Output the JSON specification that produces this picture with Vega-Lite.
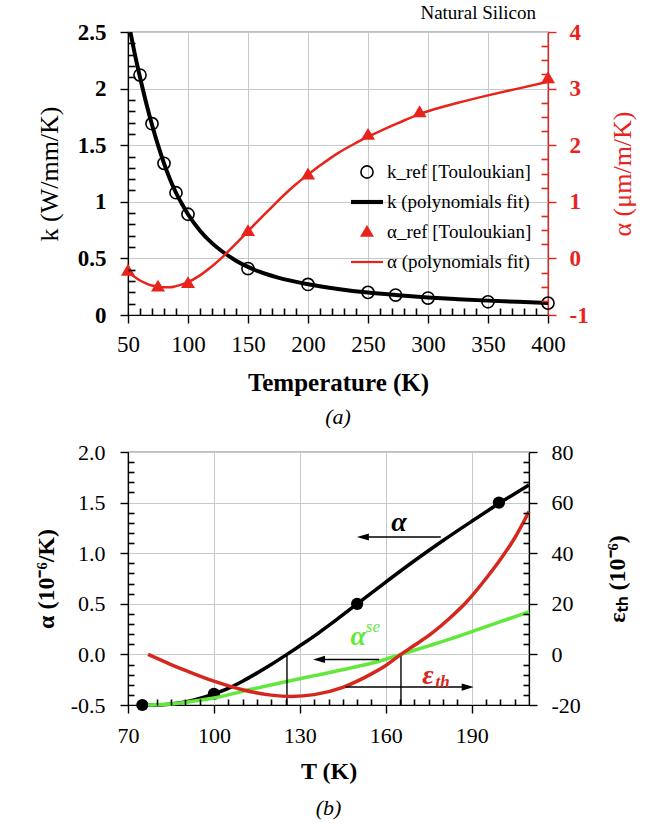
{
  "$schema": "https://vega.github.io/schema/vega-lite/v6.json",
  "background": "white",
  "padding": {"left": 33, "top": 3, "right": 5, "bottom": 5},
  "spacing": 11,
  "config": {
    "font": "Liberation Serif",
    "view": {"stroke": "black", "strokeWidth": 1.2},
    "axis": {"gridColor": "#c3caca", "gridWidth": 1, "domainColor": "black", "domainWidth": 1.2, "tickColor": "black", "tickWidth": 1.4, "labelColor": "black", "titleColor": "black", "labelFlush": false, "labelOverlap": false},
    "legend": {"title": null, "orient": "none", "padding": 0, "rowPadding": 3, "labelFontSize": 19, "labelColor": "black", "labelOffset": 3, "symbolStrokeWidth": 1.6, "symbolSize": 1024},
    "locale": {"number": {"decimal": ".", "thousands": ",", "grouping": [3], "currency": ["$", ""], "minus": "-"}}
  },
  "vconcat": [
    {
      "width": 420,
      "height": 283,
      "title": {"text": "(a)", "orient": "bottom", "fontStyle": "italic", "fontWeight": "normal", "fontSize": 22, "offset": 12},
      "layer": [
        {
          "data": {"values": [
            {"T": 52, "k": 2.5}, {"T": 55, "k": 2.34}, {"T": 60, "k": 2.1}, {"T": 65, "k": 1.88}, {"T": 70, "k": 1.68},
            {"T": 75, "k": 1.5}, {"T": 80, "k": 1.34}, {"T": 85, "k": 1.2}, {"T": 90, "k": 1.08}, {"T": 95, "k": 0.98},
            {"T": 100, "k": 0.89}, {"T": 110, "k": 0.745}, {"T": 120, "k": 0.635}, {"T": 130, "k": 0.55}, {"T": 140, "k": 0.48},
            {"T": 150, "k": 0.425}, {"T": 160, "k": 0.38}, {"T": 175, "k": 0.33}, {"T": 200, "k": 0.272}, {"T": 225, "k": 0.23},
            {"T": 250, "k": 0.198}, {"T": 275, "k": 0.175}, {"T": 300, "k": 0.155}, {"T": 325, "k": 0.14}, {"T": 350, "k": 0.127},
            {"T": 375, "k": 0.116}, {"T": 400, "k": 0.107}
          ]},
          "mark": {"type": "line", "color": "black", "strokeWidth": 4, "interpolate": "monotone", "clip": true},
          "encoding": {
            "x": {"field": "T", "type": "quantitative", "scale": {"domain": [50, 400], "nice": false, "zero": false},
              "axis": {"orient": "bottom", "values": [50, 100, 150, 200, 250, 300, 350, 400], "grid": true, "tickSize": 8, "labelFontSize": 23, "labelPadding": 10, "title": "Temperature  (K)", "titleFontSize": 25, "titleFontWeight": "bold", "titlePadding": 14}},
            "y": {"field": "k", "type": "quantitative", "scale": {"domain": [0, 2.5], "nice": false, "zero": false},
              "axis": {"orient": "left", "values": [0, 0.5, 1, 1.5, 2, 2.5], "format": "~g", "grid": true, "tickSize": 8, "labelFontSize": 23, "labelFontWeight": "bold", "labelPadding": 14, "title": "k (W/mm/K)", "titleFontSize": 26, "titleFontWeight": "normal", "titleX": -79, "titleY": 141.5, "titleAngle": 270, "titleBaseline": "middle", "titleAlign": "center"}}
          }
        },
        {
          "data": {"values": [
            {"T": 60, "k": 2.12, "series": "k_ref [Touloukian]"}, {"T": 70, "k": 1.69, "series": "k_ref [Touloukian]"},
            {"T": 80, "k": 1.34, "series": "k_ref [Touloukian]"}, {"T": 90, "k": 1.08, "series": "k_ref [Touloukian]"},
            {"T": 100, "k": 0.89, "series": "k_ref [Touloukian]"}, {"T": 150, "k": 0.41, "series": "k_ref [Touloukian]"},
            {"T": 200, "k": 0.27, "series": "k_ref [Touloukian]"}, {"T": 250, "k": 0.2, "series": "k_ref [Touloukian]"},
            {"T": 273, "k": 0.176, "series": "k_ref [Touloukian]"}, {"T": 300, "k": 0.15, "series": "k_ref [Touloukian]"},
            {"T": 350, "k": 0.117, "series": "k_ref [Touloukian]"}, {"T": 400, "k": 0.105, "series": "k_ref [Touloukian]"}
          ]},
          "mark": {"type": "point", "strokeWidth": 1.6, "opacity": 1, "size": 1024},
          "encoding": {
            "x": {"field": "T", "type": "quantitative", "scale": {"domain": [50, 400], "nice": false, "zero": false},
              "axis": {"orient": "bottom", "offset": -7, "values": [60, 70, 80, 90, 110, 120, 130, 140, 160, 170, 180, 190, 210, 220, 230, 240, 260, 270, 280, 290, 310, 320, 330, 340, 360, 370, 380, 390], "grid": false, "labels": false, "domain": false, "ticks": true, "tickSize": 7, "tickWidth": 1.6, "tickColor": "black", "title": null, "zindex": 2}},
            "y": {"field": "k", "type": "quantitative", "scale": {"domain": [0, 2.5], "nice": false, "zero": false},
              "axis": {"orient": "left", "offset": -7, "values": [0.1, 0.2, 0.3, 0.4, 0.6, 0.7, 0.8, 0.9, 1.1, 1.2, 1.3, 1.4, 1.6, 1.7, 1.8, 1.9, 2.1, 2.2, 2.3, 2.4], "grid": false, "labels": false, "domain": false, "ticks": true, "tickSize": 7, "tickWidth": 1.6, "tickColor": "black", "title": null, "zindex": 2}},
            "shape": {"field": "series", "type": "nominal",
              "scale": {"domain": ["k_ref [Touloukian]", "k (polynomials fit)", "α_ref [Touloukian]", "α (polynomials fit)"], "range": ["M0.38,0A0.38,0.38,0,1,1,-0.38,0A0.38,0.38,0,1,1,0.38,0Z", "M-1,-0.13L1,-0.13L1,0.13L-1,0.13Z", "M0,-0.44L0.44,0.3L-0.44,0.3Z", "M-1,-0.07L1,-0.07L1,0.07L-1,0.07Z"]},
              "legend": {"legendX": 222, "legendY": 123}},
            "fill": {"field": "series", "type": "nominal",
              "scale": {"domain": ["k_ref [Touloukian]", "k (polynomials fit)", "α_ref [Touloukian]", "α (polynomials fit)"], "range": ["transparent", "black", "#e8231c", "#e8231c"]},
              "legend": {"legendX": 222, "legendY": 123}},
            "stroke": {"field": "series", "type": "nominal",
              "scale": {"domain": ["k_ref [Touloukian]", "k (polynomials fit)", "α_ref [Touloukian]", "α (polynomials fit)"], "range": ["black", "transparent", "transparent", "transparent"]},
              "legend": {"legendX": 222, "legendY": 123}}
          }
        },
        {
          "data": {"values": [{"label": "Natural Silicon", "T": 390, "k": 2.67}]},
          "mark": {"type": "text", "align": "right", "baseline": "middle", "fontSize": 19, "color": "black"},
          "encoding": {
            "x": {"field": "T", "type": "quantitative", "scale": {"domain": [50, 400], "nice": false, "zero": false}, "axis": null},
            "y": {"field": "k", "type": "quantitative", "scale": {"domain": [0, 2.5], "nice": false, "zero": false}, "axis": null},
            "text": {"field": "label"}
          }
        },
        {
          "data": {"values": [
            {"T": 50, "a": -0.24}, {"T": 55, "a": -0.32}, {"T": 60, "a": -0.39}, {"T": 65, "a": -0.44}, {"T": 70, "a": -0.48},
            {"T": 75, "a": -0.5}, {"T": 80, "a": -0.51}, {"T": 85, "a": -0.51}, {"T": 90, "a": -0.49}, {"T": 95, "a": -0.46},
            {"T": 100, "a": -0.42}, {"T": 110, "a": -0.3}, {"T": 120, "a": -0.14}, {"T": 130, "a": 0.05}, {"T": 140, "a": 0.26},
            {"T": 150, "a": 0.48}, {"T": 160, "a": 0.7}, {"T": 170, "a": 0.91}, {"T": 180, "a": 1.12}, {"T": 190, "a": 1.31},
            {"T": 200, "a": 1.48}, {"T": 210, "a": 1.64}, {"T": 225, "a": 1.86}, {"T": 240, "a": 2.04}, {"T": 250, "a": 2.15},
            {"T": 260, "a": 2.25}, {"T": 275, "a": 2.39}, {"T": 293, "a": 2.55}, {"T": 300, "a": 2.6}, {"T": 325, "a": 2.75},
            {"T": 350, "a": 2.88}, {"T": 375, "a": 3.0}, {"T": 400, "a": 3.12}
          ]},
          "mark": {"type": "line", "color": "#e8231c", "strokeWidth": 2.5, "interpolate": "monotone"},
          "encoding": {
            "x": {"field": "T", "type": "quantitative", "scale": {"domain": [50, 400], "nice": false, "zero": false}, "axis": null},
            "y": {"field": "a", "type": "quantitative", "scale": {"domain": [-1, 4], "nice": false, "zero": false},
              "axis": {"orient": "right", "values": [-1, 0, 1, 2, 3, 4], "format": "d", "grid": false, "tickSize": 8, "tickColor": "#e8231c", "domainColor": "#e8231c", "labelColor": "#e8231c", "labelFontSize": 23, "labelFontWeight": "bold", "labelPadding": 13, "title": "α (μm/m/K)", "titleX": 74, "titleY": 141.5, "titleAngle": 270, "titleBaseline": "middle", "titleAlign": "center", "titleColor": "#e8231c", "titleFontSize": 26, "titleFontWeight": "normal"}}
          }
        },
        {
          "data": {"values": [
            {"T": 50, "a": -0.22, "series": "α_ref [Touloukian]"}, {"T": 75, "a": -0.5, "series": "α_ref [Touloukian]"},
            {"T": 100, "a": -0.44, "series": "α_ref [Touloukian]"}, {"T": 150, "a": 0.48, "series": "α_ref [Touloukian]"},
            {"T": 200, "a": 1.48, "series": "α_ref [Touloukian]"}, {"T": 250, "a": 2.18, "series": "α_ref [Touloukian]"},
            {"T": 293, "a": 2.58, "series": "α_ref [Touloukian]"}, {"T": 400, "a": 3.18, "series": "α_ref [Touloukian]"}
          ]},
          "mark": {"type": "point", "strokeWidth": 1.6, "opacity": 1, "size": 1024},
          "encoding": {
            "x": {"field": "T", "type": "quantitative", "scale": {"domain": [50, 400], "nice": false, "zero": false}, "axis": null},
            "y": {"field": "a", "type": "quantitative", "scale": {"domain": [-1, 4], "nice": false, "zero": false},
              "axis": {"orient": "right", "offset": -7, "values": [-0.75, -0.5, -0.25, 0.25, 0.5, 0.75, 1.25, 1.5, 1.75, 2.25, 2.5, 2.75, 3.25, 3.5, 3.75], "grid": false, "labels": false, "domain": false, "ticks": true, "tickSize": 7, "tickWidth": 1.6, "tickColor": "#e8231c", "title": null, "zindex": 2}},
            "shape": {"field": "series", "type": "nominal",
              "scale": {"domain": ["k_ref [Touloukian]", "k (polynomials fit)", "α_ref [Touloukian]", "α (polynomials fit)"], "range": ["M0.38,0A0.38,0.38,0,1,1,-0.38,0A0.38,0.38,0,1,1,0.38,0Z", "M-1,-0.13L1,-0.13L1,0.13L-1,0.13Z", "M0,-0.44L0.44,0.3L-0.44,0.3Z", "M-1,-0.07L1,-0.07L1,0.07L-1,0.07Z"]},
              "legend": {"legendX": 222, "legendY": 123}},
            "fill": {"field": "series", "type": "nominal",
              "scale": {"domain": ["k_ref [Touloukian]", "k (polynomials fit)", "α_ref [Touloukian]", "α (polynomials fit)"], "range": ["transparent", "black", "#e8231c", "#e8231c"]},
              "legend": {"legendX": 222, "legendY": 123}},
            "stroke": {"field": "series", "type": "nominal",
              "scale": {"domain": ["k_ref [Touloukian]", "k (polynomials fit)", "α_ref [Touloukian]", "α (polynomials fit)"], "range": ["black", "transparent", "transparent", "transparent"]},
              "legend": {"legendX": 222, "legendY": 123}}
          }
        }
      ],
      "resolve": {"scale": {"x": "independent", "y": "independent"}}
    },
    {
      "width": 401,
      "height": 253,
      "title": {"text": "(b)", "orient": "bottom", "fontStyle": "italic", "fontWeight": "normal", "fontSize": 22, "offset": 15},
      "layer": [
        {
          "data": {"values": [
            {"T": 75, "a": -0.5}, {"T": 80, "a": -0.5}, {"T": 85, "a": -0.49}, {"T": 90, "a": -0.47}, {"T": 95, "a": -0.435},
            {"T": 100, "a": -0.39}, {"T": 105, "a": -0.335}, {"T": 110, "a": -0.265}, {"T": 115, "a": -0.185}, {"T": 120, "a": -0.1},
            {"T": 125.5, "a": 0}, {"T": 130, "a": 0.085}, {"T": 135, "a": 0.18}, {"T": 140, "a": 0.285}, {"T": 145, "a": 0.39},
            {"T": 150, "a": 0.5}, {"T": 160, "a": 0.715}, {"T": 170, "a": 0.925}, {"T": 180, "a": 1.125}, {"T": 190, "a": 1.315},
            {"T": 200, "a": 1.5}, {"T": 210, "a": 1.675}
          ]},
          "mark": {"type": "line", "color": "black", "strokeWidth": 3.5, "interpolate": "monotone"},
          "encoding": {
            "x": {"field": "T", "type": "quantitative", "scale": {"domain": [70, 210], "nice": false, "zero": false},
              "axis": {"orient": "bottom", "values": [70, 100, 130, 160, 190], "grid": true, "tickSize": 8, "labelFontSize": 22, "labelPadding": 12, "title": "T (K)", "titleFontSize": 24, "titleFontWeight": "bold", "titlePadding": 13}},
            "y": {"field": "a", "type": "quantitative", "scale": {"domain": [-0.5, 2.0], "nice": false, "zero": false},
              "axis": {"orient": "left", "values": [-0.5, 0, 0.5, 1, 1.5, 2], "format": ".1f", "grid": true, "tickSize": 8, "labelFontSize": 22, "labelPadding": 15, "title": "α (10⁻⁶/K)", "titleFontSize": 24, "titleFontWeight": "bold", "titleX": -82, "titleY": 126.5, "titleAngle": 270, "titleBaseline": "middle", "titleAlign": "center"}}
          }
        },
        {
          "data": {"values": [{"T": 75, "a": -0.5}, {"T": 100, "a": -0.39}, {"T": 150, "a": 0.5}, {"T": 199.5, "a": 1.5}]},
          "mark": {"type": "point", "filled": true, "color": "black", "size": 150, "opacity": 1},
          "encoding": {
            "x": {"field": "T", "type": "quantitative", "scale": {"domain": [70, 210], "nice": false, "zero": false},
              "axis": {"orient": "bottom", "offset": -6, "values": [75, 80, 85, 90, 95, 105, 110, 115, 120, 125, 135, 140, 145, 150, 155, 165, 170, 175, 180, 185, 195, 200, 205], "grid": false, "labels": false, "domain": false, "ticks": true, "tickSize": 6, "tickWidth": 1.6, "tickColor": "black", "title": null, "zindex": 2}},
            "y": {"field": "a", "type": "quantitative", "scale": {"domain": [-0.5, 2.0], "nice": false, "zero": false},
              "axis": {"orient": "left", "offset": -6, "values": [-0.4, -0.3, -0.2, -0.1, 0.1, 0.2, 0.3, 0.4, 0.6, 0.7, 0.8, 0.9, 1.1, 1.2, 1.3, 1.4, 1.6, 1.7, 1.8, 1.9], "grid": false, "labels": false, "domain": false, "ticks": true, "tickSize": 6, "tickWidth": 1.6, "tickColor": "black", "title": null, "zindex": 2}}
          }
        },
        {
          "data": {"values": [
            {"T": 77, "a": -0.5}, {"T": 85, "a": -0.49}, {"T": 92, "a": -0.465}, {"T": 100, "a": -0.43}, {"T": 113, "a": -0.345},
            {"T": 125, "a": -0.27}, {"T": 135, "a": -0.21}, {"T": 150, "a": -0.12}, {"T": 158, "a": -0.065}, {"T": 165.3, "a": 0},
            {"T": 175, "a": 0.085}, {"T": 185, "a": 0.175}, {"T": 195, "a": 0.275}, {"T": 210, "a": 0.42}
          ]},
          "mark": {"type": "line", "color": "#62e83c", "strokeWidth": 3.5, "interpolate": "monotone"},
          "encoding": {
            "x": {"field": "T", "type": "quantitative", "scale": {"domain": [70, 210], "nice": false, "zero": false}, "axis": null},
            "y": {"field": "a", "type": "quantitative", "scale": {"domain": [-0.5, 2.0], "nice": false, "zero": false}, "axis": null}
          }
        },
        {
          "data": {"values": [{"T": 125.5, "a0": 0, "a1": -0.5}, {"T": 165.3, "a0": 0, "a1": -0.5}]},
          "mark": {"type": "rule", "color": "black", "strokeWidth": 1.4},
          "encoding": {
            "x": {"field": "T", "type": "quantitative", "scale": {"domain": [70, 210], "nice": false, "zero": false}, "axis": null},
            "y": {"field": "a0", "type": "quantitative", "scale": {"domain": [-0.5, 2.0], "nice": false, "zero": false}, "axis": null},
            "y2": {"field": "a1"}
          }
        },
        {
          "data": {"values": [{"T1": 152, "T2": 179.2, "a": 1.16}, {"T1": 136.7, "T2": 157.7, "a": -0.05}]},
          "mark": {"type": "rule", "color": "black", "strokeWidth": 1.4},
          "encoding": {
            "x": {"field": "T1", "type": "quantitative", "scale": {"domain": [70, 210], "nice": false, "zero": false}, "axis": null},
            "x2": {"field": "T2"},
            "y": {"field": "a", "type": "quantitative", "scale": {"domain": [-0.5, 2.0], "nice": false, "zero": false}, "axis": null}
          }
        },
        {
          "data": {"values": [{"T": 152, "a": 1.16}, {"T": 136.7, "a": -0.05}]},
          "mark": {"type": "point", "filled": true, "color": "black", "opacity": 1, "size": 144, "shape": "M-1,0L1,-0.6L1,0.6Z"},
          "encoding": {
            "x": {"field": "T", "type": "quantitative", "scale": {"domain": [70, 210], "nice": false, "zero": false}, "axis": null},
            "y": {"field": "a", "type": "quantitative", "scale": {"domain": [-0.5, 2.0], "nice": false, "zero": false}, "axis": null}
          }
        },
        {
          "data": {"values": [{"t": "α", "T": 164.6, "a": 1.3, "c": "black"}, {"t": "α", "T": 150.4, "a": 0.17, "c": "#62e83c"}]},
          "mark": {"type": "text", "fontStyle": "italic", "fontWeight": "bold", "fontSize": 28, "baseline": "middle"},
          "encoding": {
            "x": {"field": "T", "type": "quantitative", "scale": {"domain": [70, 210], "nice": false, "zero": false}, "axis": null},
            "y": {"field": "a", "type": "quantitative", "scale": {"domain": [-0.5, 2.0], "nice": false, "zero": false}, "axis": null},
            "text": {"field": "t"},
            "color": {"field": "c", "type": "nominal", "scale": null}
          }
        },
        {
          "data": {"values": [{"t": "se", "T": 155.5, "a": 0.27}]},
          "mark": {"type": "text", "fontStyle": "italic", "fontSize": 17, "color": "#62e83c", "baseline": "middle"},
          "encoding": {
            "x": {"field": "T", "type": "quantitative", "scale": {"domain": [70, 210], "nice": false, "zero": false}, "axis": null},
            "y": {"field": "a", "type": "quantitative", "scale": {"domain": [-0.5, 2.0], "nice": false, "zero": false}, "axis": null},
            "text": {"field": "t"}
          }
        },
        {
          "data": {"values": [
            {"T": 77, "e": 0}, {"T": 85, "e": -4}, {"T": 90, "e": -6.3}, {"T": 100, "e": -10.6}, {"T": 110, "e": -14},
            {"T": 120, "e": -16.1}, {"T": 127, "e": -16.6}, {"T": 135, "e": -15.9}, {"T": 145, "e": -13}, {"T": 155, "e": -7.7},
            {"T": 160, "e": -4.4}, {"T": 165.3, "e": 0}, {"T": 170, "e": 3.6}, {"T": 176, "e": 8.3}, {"T": 182, "e": 14},
            {"T": 188, "e": 20.5}, {"T": 195, "e": 30}, {"T": 200, "e": 37.5}, {"T": 205, "e": 46}, {"T": 210, "e": 56.5}
          ]},
          "mark": {"type": "line", "color": "#d4281e", "strokeWidth": 3.5, "interpolate": "monotone"},
          "encoding": {
            "x": {"field": "T", "type": "quantitative", "scale": {"domain": [70, 210], "nice": false, "zero": false}, "axis": null},
            "y": {"field": "e", "type": "quantitative", "scale": {"domain": [-20, 80], "nice": false, "zero": false},
              "axis": {"orient": "right", "values": [-20, 0, 20, 40, 60, 80], "grid": false, "tickSize": 8, "labelFontSize": 22, "labelPadding": 14, "title": "εₜₕ (10⁻⁶)", "titleX": 88, "titleY": 126.5, "titleAngle": 270, "titleBaseline": "middle", "titleAlign": "center", "titleFontSize": 24, "titleFontWeight": "bold"}}
          }
        },
        {
          "data": {"values": [{"T1": 146, "T2": 188.6, "e": -12.9}]},
          "mark": {"type": "rule", "color": "black", "strokeWidth": 1.4},
          "encoding": {
            "x": {"field": "T1", "type": "quantitative", "scale": {"domain": [70, 210], "nice": false, "zero": false}, "axis": null},
            "x2": {"field": "T2"},
            "y": {"field": "e", "type": "quantitative", "scale": {"domain": [-20, 80], "nice": false, "zero": false},
              "axis": {"orient": "right", "offset": -6, "values": [-16, -12, -8, -4, 4, 8, 12, 16, 24, 28, 32, 36, 44, 48, 52, 56, 64, 68, 72, 76], "grid": false, "labels": false, "domain": false, "ticks": true, "tickSize": 6, "tickWidth": 1.6, "tickColor": "black", "title": null, "zindex": 2}}
          }
        },
        {
          "data": {"values": [{"T": 188.6, "e": -12.9}]},
          "mark": {"type": "point", "filled": true, "color": "black", "opacity": 1, "size": 144, "shape": "M1,0L-1,-0.6L-1,0.6Z"},
          "encoding": {
            "x": {"field": "T", "type": "quantitative", "scale": {"domain": [70, 210], "nice": false, "zero": false}, "axis": null},
            "y": {"field": "e", "type": "quantitative", "scale": {"domain": [-20, 80], "nice": false, "zero": false}, "axis": null}
          }
        },
        {
          "data": {"values": [{"t": "ε", "T": 174.7, "e": -8.5, "fs": 28}, {"t": "th", "T": 179.8, "e": -11, "fs": 17}]},
          "mark": {"type": "text", "fontWeight": "bold", "fontStyle": "italic", "color": "#d4281e", "baseline": "middle"},
          "encoding": {
            "x": {"field": "T", "type": "quantitative", "scale": {"domain": [70, 210], "nice": false, "zero": false}, "axis": null},
            "y": {"field": "e", "type": "quantitative", "scale": {"domain": [-20, 80], "nice": false, "zero": false}, "axis": null},
            "text": {"field": "t"},
            "size": {"field": "fs", "type": "quantitative", "scale": null}
          }
        }
      ],
      "resolve": {"scale": {"x": "independent", "y": "independent"}}
    }
  ]
}
